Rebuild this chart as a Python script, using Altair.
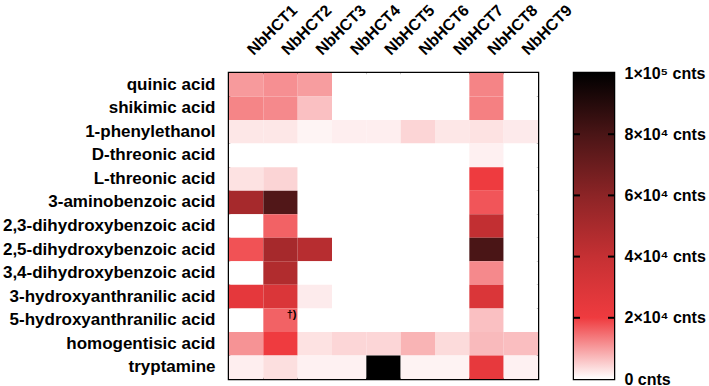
import altair as alt
import pandas as pd

compounds = [
    "quinic acid", "shikimic acid", "1-phenylethanol", "D-threonic acid",
    "L-threonic acid", "3-aminobenzoic acid", "2,3-dihydroxybenzoic acid",
    "2,5-dihydroxybenzoic acid", "3,4-dihydroxybenzoic acid",
    "3-hydroxyanthranilic acid", "5-hydroxyanthranilic acid",
    "homogentisic acid", "tryptamine",
]
lines = ["NbHCT1", "NbHCT2", "NbHCT3", "NbHCT4", "NbHCT5",
         "NbHCT6", "NbHCT7", "NbHCT8", "NbHCT9"]

NbHCT1 = [10300, 12500, 2500, 0, 3000, 51000, 0, 17700, 0, 25000, 0, 11000, 1700]
NbHCT2 = [11400, 12000, 2500, 0, 4400, 78000, 16000, 51000, 47000, 30000, 16000, 20000, 3300]
NbHCT3 = [10000, 6400, 1100, 0, 0, 0, 0, 45000, 0, 2000, 0, 3000, 1400]
NbHCT4 = [0, 0, 1700, 0, 0, 0, 0, 0, 0, 0, 0, 4200, 1400]
NbHCT5 = [0, 0, 1700, 0, 0, 0, 0, 0, 0, 0, 0, 4200, 100000]
NbHCT6 = [0, 0, 4300, 0, 0, 0, 0, 0, 0, 0, 0, 7700, 1200]
NbHCT7 = [0, 0, 2500, 0, 0, 0, 0, 0, 0, 0, 0, 3700, 1200]
NbHCT8 = [12600, 13000, 3000, 1500, 20500, 17300, 41000, 80000, 12000, 30000, 6400, 7000, 24000]
NbHCT9 = [0, 0, 2100, 0, 0, 0, 0, 0, 0, 0, 0, 6600, 1400]

series = [NbHCT1, NbHCT2, NbHCT3, NbHCT4, NbHCT5, NbHCT6, NbHCT7, NbHCT8, NbHCT9]

note_line = ["NbHCT2"]
note_compound = ["5-hydroxyanthranilic acid"]
note_text = ["†)"]

color_stops = [0, 20000, 40000, 60000, 80000, 100000]
color_range = ["#ffffff", "#ef3b3f", "#c53033", "#8c2426", "#4a1516", "#000000"]
bar_ticks = [20000, 40000, 60000, 80000]
bar_labels = [0, 20000, 40000, 60000, 80000, 100000]

FONT = "Liberation Sans"

rows = []
for ln, vals in zip(lines, series):
    for cp, v in zip(compounds, vals):
        rows.append({"line": ln, "compound": cp, "value": v})
df = pd.DataFrame(rows)
notes = pd.DataFrame({"line": note_line, "compound": note_compound, "note": note_text})

color_scale = alt.Scale(domain=color_stops, range=color_range, interpolate="rgb", clamp=True)

x_enc = alt.X("line:N", sort=lines, title=None,
              axis=alt.Axis(orient="top", labelAngle=-45, labelAlign="left",
                            labelBaseline="middle", ticks=False, domain=False,
                            labelPadding=21, labelOffset=4, labelFont=FONT, labelFontSize=16,
                            labelFontWeight="bold", labelColor="black"))
y_enc = alt.Y("compound:N", sort=compounds, title=None,
              axis=alt.Axis(ticks=False, domain=False, labelPadding=14,
                            labelFont=FONT, labelFontSize=17, labelFontWeight="bold",
                            labelColor="black", labelLimit=400))

heat = alt.Chart(df).mark_rect().encode(
    x=x_enc, y=y_enc,
    color=alt.Color("value:Q", scale=color_scale, legend=None),
)
note_layer = alt.Chart(notes).mark_text(
    align="right", baseline="middle", dx=16, dy=-5, fontSize=11,
    fontWeight="bold", font=FONT, color="black"
).encode(
    x=alt.X("line:N", sort=lines), y=alt.Y("compound:N", sort=compounds), text="note:N"
)
heat_layer = alt.layer(heat, note_layer).properties(width=309, height=306)

grad = alt.LinearGradient(
    gradient="linear",
    stops=[alt.GradientStop(color=c, offset=s / color_stops[-1]) for s, c in zip(color_stops, color_range)],
    x1=0, x2=0, y1=1, y2=0,
)
cb_df = pd.DataFrame({"lo": [color_stops[0]], "hi": [color_stops[-1]]})
label_expr = ("datum.value == 0 ? '0 cnts' : datum.value == 100000 ? '1×10⁵ cnts' : "
              "(datum.value / 10000) + '×10⁴ cnts'")
cb_scale = alt.Scale(domain=[color_stops[0], color_stops[-1]], nice=False)
cb_axis = alt.Axis(orient="right", values=bar_labels, labelExpr=label_expr,
                   domain=False, ticks=False, grid=False, labelPadding=10,
                   labelFont=FONT, labelFontSize=16, labelFontWeight="bold",
                   labelColor="black", labelOffset=0, title=None)
bar = alt.Chart(cb_df).mark_rect(color=grad).encode(
    y=alt.Y("lo:Q", scale=cb_scale, axis=cb_axis, title=None),
    y2="hi:Q",
    x=alt.value(0), x2=alt.value(40),
)
tick_df = pd.DataFrame({"t": bar_ticks})
tick_l = alt.Chart(tick_df).mark_rule(color="black", strokeWidth=2).encode(
    y=alt.Y("t:Q", scale=cb_scale, axis=cb_axis, title=None), x=alt.value(0), x2=alt.value(6))
tick_r = alt.Chart(tick_df).mark_rule(color="black", strokeWidth=2).encode(
    y=alt.Y("t:Q", scale=cb_scale, axis=cb_axis, title=None), x=alt.value(34), x2=alt.value(40))
bar_layer = alt.layer(bar, tick_l, tick_r).properties(width=40, height=306)

chart = alt.hconcat(heat_layer, bar_layer, spacing=36, bounds="flush").configure_view(
    stroke="black", strokeWidth=2.5
).properties(background="white", padding={"left": 1, "right": 2, "top": 0, "bottom": 0})

chart.save("out.html", embed_options={"renderer": "svg", "actions": False})
